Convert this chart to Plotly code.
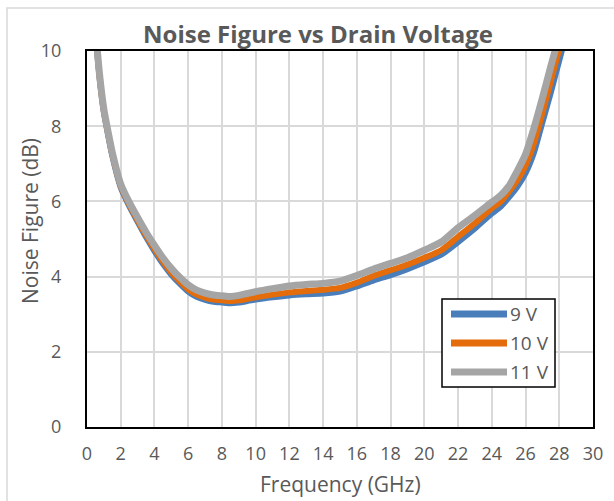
import plotly.graph_objects as go

freq = [0.5, 0.75, 1, 1.25, 1.5, 2, 2.5, 3, 3.5, 4, 4.5, 5, 5.5, 6, 6.5, 7, 7.5, 8, 8.5, 9, 9.5,
        10, 11, 12, 13, 14, 15, 16, 17, 18, 19, 20, 21, 22, 23, 24, 24.5, 25, 25.5, 26,
        26.5, 27, 27.5, 28, 28.5]

nf_9v = [10.5, 9.27, 8.37, 7.77, 7.21, 6.37, 5.88, 5.46, 5.05, 4.68, 4.34, 4.05, 3.81, 3.6,
         3.46, 3.38, 3.33, 3.31, 3.29, 3.31, 3.35, 3.39, 3.45, 3.5, 3.53, 3.55, 3.6, 3.74,
         3.9, 4.04, 4.2, 4.38, 4.58, 4.92, 5.28, 5.68, 5.85, 6.1, 6.38, 6.75, 7.3, 8.1, 8.9,
         9.75, 10.6]

nf_10v = [10.55, 9.3, 8.4, 7.8, 7.25, 6.41, 5.92, 5.5, 5.1, 4.74, 4.4, 4.11, 3.87, 3.66,
          3.52, 3.44, 3.39, 3.37, 3.35, 3.37, 3.41, 3.45, 3.52, 3.58, 3.62, 3.65, 3.7, 3.84,
          4.02, 4.17, 4.32, 4.5, 4.7, 5.06, 5.42, 5.82, 5.98, 6.25, 6.55, 6.95, 7.55, 8.35,
          9.2, 10.05, 10.9]

nf_11v = [10.6, 9.35, 8.45, 7.85, 7.3, 6.46, 5.98, 5.57, 5.18, 4.83, 4.5, 4.22, 3.98, 3.78,
          3.64, 3.56, 3.51, 3.49, 3.47, 3.5, 3.55, 3.6, 3.68, 3.75, 3.79, 3.82, 3.88, 4.03,
          4.2, 4.35, 4.5, 4.7, 4.92, 5.3, 5.63, 5.98, 6.15, 6.4, 6.8, 7.25, 7.95, 8.75, 9.6,
          10.4, 11.2]

series_names = ["9 V", "10 V", "11 V"]
series_colors = ["#4a7ebb", "#e46c0a", "#a5a5a5"]
series_widths = [6, 6, 7]

x_ticks = list(range(0, 31, 2))
y_ticks = list(range(0, 11, 2))

W, H = 614, 501
L, R, T, B = 87, 593, 51, 427

fig = go.Figure()
for name, ys, col, w in zip(series_names, [nf_9v, nf_10v, nf_11v], series_colors, series_widths):
    fig.add_trace(go.Scatter(x=freq, y=ys, mode="lines", name=name,
                             line=dict(color=col, width=w, shape="spline", smoothing=0.6),
                             showlegend=False))

def px(x):
    return (x - L) / (R - L)

def py(y):
    return (B - y) / (B - T)

txt = "#595959"
font = "Open Sans"

shapes = []
annotations = []
# outer chart border
shapes.append(dict(type="rect", xref="paper", yref="paper", x0=px(7), x1=px(640),
                   y0=py(8), y1=py(530), line=dict(color="#d9d9d9", width=1.5)))
# legend box
shapes.append(dict(type="rect", xref="paper", yref="paper", x0=px(442), x1=px(555),
                   y0=py(299), y1=py(387), line=dict(color="black", width=1.5),
                   fillcolor="white", layer="above"))
leg_y = [314, 343, 372]
for name, col, ly in zip(series_names, series_colors, leg_y):
    shapes.append(dict(type="line", xref="paper", yref="paper", x0=px(451), x1=px(507),
                       y0=py(ly), y1=py(ly), line=dict(color=col, width=7), layer="above"))
    annotations.append(dict(text=name, xref="paper", yref="paper", x=px(508), y=py(ly),
                            xanchor="left", yanchor="middle", showarrow=False,
                            font=dict(family=font, size=19, color=txt)))

# axis titles
annotations.append(dict(text="Frequency (GHz)", xref="paper", yref="paper",
                        x=px(340), y=py(484), xanchor="center", yanchor="middle",
                        showarrow=False, font=dict(family=font, size=21, color=txt)))
annotations.append(dict(text="Noise Figure (dB)", xref="paper", yref="paper",
                        x=px(30), y=py(221), xanchor="center", yanchor="middle",
                        textangle=-90, showarrow=False,
                        font=dict(family=font, size=21, color=txt)))

fig.update_layout(
    width=W, height=H,
    margin=dict(l=L, r=W - R, t=T, b=H - B),
    paper_bgcolor="white", plot_bgcolor="white",
    title=dict(text="<b>Noise Figure vs Drain Voltage</b>", x=318 / W, xanchor="center",
               y=1 - 35 / H, yanchor="middle",
               font=dict(family=font, size=24, color=txt)),
    xaxis=dict(range=[0, 30], tickvals=x_ticks, ticktext=[str(v) for v in x_ticks],
               showgrid=True, gridcolor="#d9d9d9", gridwidth=1.5,
               showline=True, linecolor="black", linewidth=2, mirror=True,
               ticks="", ticklabelstandoff=9, zeroline=False,
               tickfont=dict(family=font, size=18, color=txt)),
    yaxis=dict(range=[0, 10], tickvals=y_ticks, ticktext=[str(v) for v in y_ticks],
               showgrid=True, gridcolor="#d9d9d9", gridwidth=1.5,
               showline=True, linecolor="black", linewidth=2, mirror=True,
               ticks="", ticklabelstandoff=20, zeroline=False,
               tickfont=dict(family=font, size=18, color=txt)),
    shapes=shapes, annotations=annotations,
)

fig.write_html("out.html")
